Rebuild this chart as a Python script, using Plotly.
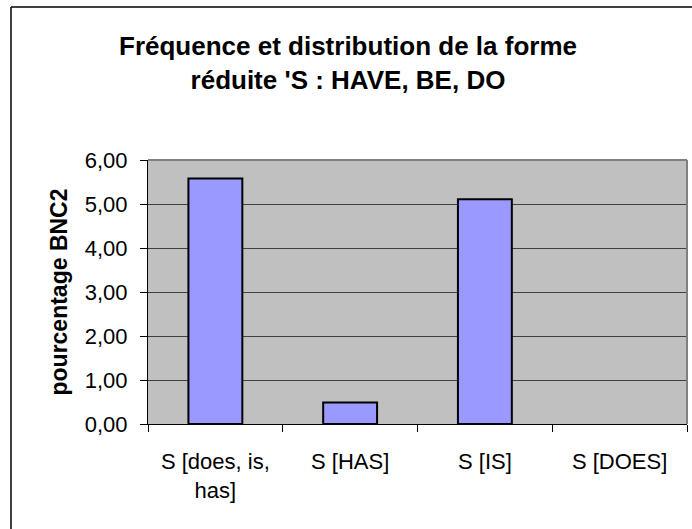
import plotly.graph_objects as go

# Data
categories = ["S [does, is,<br>has]", "S [HAS]", "S [IS]", "S [DOES]"]
values = [5.58, 0.49, 5.11, 0.0]
y_ticks = [0, 1, 2, 3, 4, 5, 6]

W, H = 692, 529
L, R, T, B = 148, 5, 160, 105  # plot-area margins in px
pw, ph = W - L - R, H - T - B


def px_x(x):
    return (x - L) / pw


def px_y(y):
    return (H - B - y) / ph


# empty bars get no outline
outline_widths = [2 if v > 0 else 0 for v in values]

fig = go.Figure(
    go.Bar(
        x=categories,
        y=values,
        marker=dict(color="#9999FF", line=dict(color="#000000", width=outline_widths)),
        hoverinfo="x+y",
    )
)

font_family = "Liberation Sans, Arial, sans-serif"

fig.update_layout(
    width=W,
    height=H,
    margin=dict(l=L, r=R, t=T, b=B),
    paper_bgcolor="white",
    plot_bgcolor="#C0C0C0",
    bargap=0.6,
    separators=", ",
    showlegend=False,
    font=dict(family=font_family, color="black", size=22),
    xaxis=dict(
        type="category",
        showline=True,
        linecolor="black",
        linewidth=1,
        ticks="outside",
        tickson="boundaries",
        ticklen=7,
        tickcolor="black",
        showgrid=False,
        tickfont=dict(size=22),
        ticklabelstandoff=18,
        fixedrange=True,
    ),
    yaxis=dict(
        range=[0, 6],
        tickvals=y_ticks,
        tickformat=".2f",
        showline=True,
        linecolor="black",
        linewidth=1,
        ticks="outside",
        ticklen=7,
        tickcolor="black",
        showgrid=True,
        gridcolor="#404040",
        gridwidth=1,
        zeroline=False,
        tickfont=dict(size=22),
        ticklabelstandoff=8,
        title=dict(text="<b>pourcentage BNC2</b>", font=dict(size=23), standoff=10),
        fixedrange=True,
    ),
    annotations=[
        dict(
            text="<b>Fréquence et distribution de la forme<br>réduite 'S : HAVE, BE, DO</b>",
            xref="paper", yref="paper",
            x=px_x(348), y=px_y(63),
            xanchor="center", yanchor="middle",
            showarrow=False,
            font=dict(family=font_family, size=26, color="black"),
        )
    ],
    shapes=[
        # gray frame on top and right of the plot area
        dict(type="line", xref="paper", yref="paper", x0=0, x1=1, y0=1, y1=1,
             line=dict(color="#808080", width=2)),
        dict(type="line", xref="paper", yref="paper", x0=1, x1=1, y0=0, y1=1,
             line=dict(color="#808080", width=2)),
        # outer chart border (top and left edges)
        dict(type="line", xref="paper", yref="paper",
             x0=px_x(11), x1=px_x(W + 10), y0=px_y(7), y1=px_y(7),
             line=dict(color="black", width=1.5)),
        dict(type="line", xref="paper", yref="paper",
             x0=px_x(11), x1=px_x(11), y0=px_y(7), y1=px_y(H + 10),
             line=dict(color="black", width=1.5)),
    ],
)

fig.write_html("out.html")
